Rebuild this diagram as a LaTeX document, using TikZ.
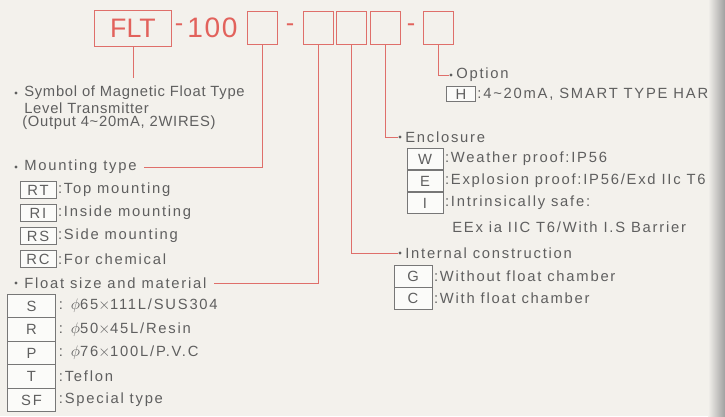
\documentclass[tikz,border=0pt]{standalone}
\usepackage{fontspec}
\setmainfont{Liberation Sans}
\newfontfamily\spaced{Liberation Sans}[LetterSpace=12]
\newfontfamily\tight{Liberation Sans}[LetterSpace=5]
\newfontfamily\wide{Liberation Sans}[LetterSpace=6]
\usetikzlibrary{positioning, shapes, calc}
\definecolor{paper}{HTML}{F3F1EC}
\definecolor{leadred}{HTML}{DF6F6A}
\definecolor{inkred}{HTML}{E2625C}
\definecolor{ink}{HTML}{5F5F5F}
\definecolor{codeline}{HTML}{777777}

\begin{document}
\begin{tikzpicture}[x=0.025cm, y=-0.025cm,
    every node/.style={font=\spaced\fontsize{10.5}{12}\selectfont, text=ink},
    redbox/.style={draw=leadred, line width=0.7pt, minimum width=0.75cm, minimum height=0.83cm, inner sep=0pt},
    bigred/.style={font=\fontsize{18}{18}\selectfont, text=inkred, inner sep=0pt},
    leader/.style={draw=leadred, line width=0.6pt},
    codebox/.style={draw=codeline, fill=white!70!paper, line width=0.5pt, minimum width=0.9cm, minimum height=0.42cm, inner sep=0pt},
    desc/.style={anchor=west, inner sep=0pt},
    dot/.style={circle, fill=ink, inner sep=0pt, minimum size=2.2pt}]

      % Paper
      \fill[paper] (0,0) rectangle (725,416);

      % Model code
      \node[redbox, minimum width=1.9cm, minimum height=0.9cm, font=\fontsize{19}{19}\selectfont, text=inkred] (flt) at (133,28) {FLT};
      \node[bigred] (d1) at (179,28) {-};
      \node[bigred, anchor=west, font=\wide\fontsize{20}{20}\selectfont] (num) at (187,28) {100};
      \node[redbox] (b1) at (262,28) {};
      \node[bigred] (d2) at (290,28) {-};
      \node[redbox] (b2) at (318,28) {};
      \node[redbox] (b3) at (351.5,28) {};
      \node[redbox] (b4) at (385.5,28) {};
      \node[bigred] (d3) at (411,28) {-};
      \node[redbox] (b5) at (438.5,28) {};

      % Symbol
      \coordinate (symtop) at (133,78);
      \node[dot] (symdot) at (16,93) {};
      \node[desc, font=\tight\fontsize{10.5}{12}\selectfont] (sym) at (24,93) {Symbol of Magnetic Float Type};
      \node[desc, font=\tight\fontsize{10.5}{12}\selectfont] (sym2) at (24,108) {Level Transmitter};
      \node[desc, font=\tight\fontsize{10.5}{12}\selectfont] (sym3) at (22,123) {(Output 4\textasciitilde20mA, 2WIRES)};

      % Mounting type
      \node[dot] (mntdot) at (16,167) {};
      \node[desc] (mnt) at (24,167) {Mounting type};
      \node[codebox] (rt) at (38,190) {RT};
      \node[desc, right=1pt of rt] {:Top mounting};
      \node[codebox] (ri) at (38,213) {RI};
      \node[desc, right=1pt of ri] {:Inside mounting};
      \node[codebox] (rs) at (38,236) {RS};
      \node[desc, right=1pt of rs] {:Side mounting};
      \node[codebox] (rc) at (38,259) {RC};
      \node[desc, right=1pt of rc] {:For chemical};

      % Float size and material
      \node[dot] (fltdot) at (16,283) {};
      \node[desc] (fsize) at (24,283) {Float size and material};
      \node[codebox, minimum width=1.2cm, minimum height=0.59cm] (fs) at (31.5,306) {S};
      \node[desc, right=2pt of fs] {: $\phi$65$\times$111L/SUS304};
      \node[codebox, minimum width=1.2cm, minimum height=0.59cm] (fr) at (31.5,329.5) {R};
      \node[desc, right=2pt of fr] {: $\phi$50$\times$45L/Resin};
      \node[codebox, minimum width=1.2cm, minimum height=0.59cm] (fp) at (31.5,353) {P};
      \node[desc, right=2pt of fp] {: $\phi$76$\times$100L/P.V.C};
      \node[codebox, minimum width=1.2cm, minimum height=0.59cm] (ft) at (31.5,376.5) {T};
      \node[desc, right=2pt of ft] {:Teflon};
      \node[codebox, minimum width=1.2cm, minimum height=0.59cm] (fsf) at (31.5,400) {SF};
      \node[desc, right=2pt of fsf] {:Special type};

      % Option
      \node[dot] (optdot) at (451,75) {};
      \node[desc] (opt) at (456,75) {Option};
      \node[codebox, minimum width=0.72cm, minimum height=0.37cm] (oh) at (461,94) {H};
      \node[desc, right=1pt of oh] {:4\textasciitilde20mA, SMART TYPE HART};

      % Enclosure
      \node[dot] (encdot) at (400,137) {};
      \node[desc] (enc) at (405,137) {Enclosure};
      \node[codebox, minimum height=0.53cm] (ew) at (425,159) {W};
      \node[desc, right=1pt of ew] {:Weather proof:IP56};
      \node[codebox, minimum height=0.53cm] (ee) at (425,181) {E};
      \node[desc, right=1pt of ee] {:Explosion proof:IP56/Exd IIc T6};
      \node[codebox, minimum height=0.53cm] (ei) at (425,203) {I};
      \node[desc, right=1pt of ei] {:Intrinsically safe:};
      \node[desc] (eex) at (452,227) {EEx ia IIC T6/With I.S Barrier};

      % Internal construction
      \node[dot] (intdot) at (400,253) {};
      \node[desc] (int) at (405,253) {Internal construction};
      \node[codebox, minimum width=0.95cm, minimum height=0.55cm] (ig) at (413,276) {G};
      \node[desc, right=1pt of ig] {:Without float chamber};
      \node[codebox, minimum width=0.95cm, minimum height=0.55cm] (ic) at (413,298) {C};
      \node[desc, right=1pt of ic] {:With float chamber};

      % Leaders
      \draw[leader] (flt.south) -- (symtop);
      \draw[leader] (b1.south) |- ([xshift=5pt]mnt.east);
      \draw[leader] (b2.south) |- ([xshift=5pt]fsize.east);
      \draw[leader] (b3.south) |- (intdot.west);
      \draw[leader] (b4.south) |- (encdot.west);
      \draw[leader] (b5.south) |- (optdot.west);

      % Gutter
      \shade[left color=paper, right color=gray!75] (708,0) rectangle (725,416);
\end{tikzpicture}
\end{document}
